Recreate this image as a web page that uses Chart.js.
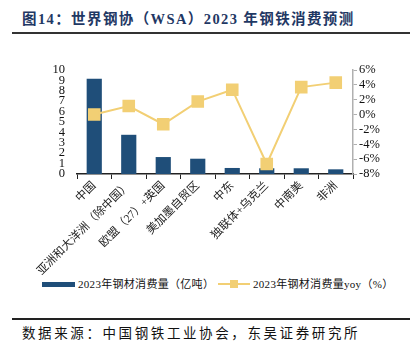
<!DOCTYPE html>
<html><head><meta charset="utf-8">
<script src="https://cdn.jsdelivr.net/npm/chart.js@4"></script>
<style>
html,body{margin:0;padding:0;background:#fff;}
body{width:410px;height:347px;position:relative;overflow:hidden;font-family:"Liberation Serif","Noto Sans CJK SC",serif;}
#title{position:absolute;left:22px;top:7px;font-size:14.5px;font-weight:bold;color:#1f3864;white-space:nowrap;letter-spacing:1.4px;}
#tline{position:absolute;left:12px;top:32px;width:398px;height:2px;background:#333;}
#wrap{position:absolute;left:0;top:40px;width:410px;height:235px;}
#legend{position:absolute;top:277px;left:42px;font-size:11px;color:#111;white-space:nowrap;}
.li{position:absolute;top:0;height:14px;line-height:14px;letter-spacing:0.3px;}
#sline{position:absolute;left:12px;top:318px;width:398px;height:2px;background:#222;}
#src{position:absolute;left:22px;top:322px;font-size:13.5px;color:#111;white-space:nowrap;letter-spacing:2.6px;}
</style></head>
<body>
<div id="title">图14：世界钢协（WSA）2023 年钢铁消费预测</div>
<div id="tline"></div>
<div id="wrap"><canvas id="c" width="410" height="235"></canvas></div>
<div id="legend"></div>
<div id="sline"></div>
<div id="src">数据来源：中国钢铁工业协会，东吴证券研究所</div>
<script>
const categories = ["中国","亚洲和大洋洲（除中国）","欧盟（27）+英国","美加墨自贸区","中东","独联体+乌克兰","中南美","非洲"];
const consumption = [9.16, 3.77, 1.63, 1.47, 0.58, 0.55, 0.55, 0.45];
const yoy = [0.0, 1.15, -1.3, 1.75, 3.35, -6.65, 3.7, 4.3];
const leftTicks = {min:0, max:10, step:1};
const rightTicks = {min:-8, max:6, step:2};
const barName = "2023年钢材消费量（亿吨）";
const lineName = "2023年钢材消费量yoy（%）";
const barColor = "#1f4e79";
const lineColor = "#f2cf74";

const font = "'Liberation Serif','Noto Sans CJK SC',serif";

new Chart(document.getElementById('c'), {
  data: {
    labels: categories,
    datasets: [
      {type:'line', label: lineName, data: yoy, yAxisID:'y1', borderColor: lineColor, backgroundColor: lineColor,
       borderWidth: 2, pointStyle:'rect', pointRadius: 7.5, pointHoverRadius:7.5, tension:0, order:0},
      {type:'bar', label: barName, data: consumption, yAxisID:'y', backgroundColor: barColor,
       barPercentage: 0.44, categoryPercentage: 1.0, order:1}
    ]
  },
  options: {
    responsive:false, animation:false,
    layout:{padding:{left:0,right:0,top:30,bottom:0}},
    plugins:{legend:{display:false}, tooltip:{enabled:false}},
    scales:{
      x:{
        offset:true,
        grid:{display:true, drawOnChartArea:false, offset:true, tickLength:5, color:'#222', lineWidth:1},
        border:{display:true, color:'#222', width:1.5},
        ticks:{autoSkip:false, maxRotation:45, minRotation:45, color:'#222', padding:0, font:{family:font, size:11.5}},
        afterFit:(s)=>{ s.height = 101; }
      },
      y:{
        position:'left', min:leftTicks.min, max:leftTicks.max,
        grid:{display:false, drawOnChartArea:false},
        border:{display:false},
        ticks:{autoSkip:false, stepSize:leftTicks.step, color:'#111', padding:4, font:{family:font, size:12.5}},
        afterFit:(s)=>{ s.width = 77; }
      },
      y1:{
        position:'right', min:rightTicks.min, max:rightTicks.max,
        grid:{display:true, drawOnChartArea:false, tickLength:4, color:'#b0b0b0', lineWidth:1},
        border:{display:true, color:'#b0b0b0', width:1.5},
        ticks:{autoSkip:false, stepSize:rightTicks.step, color:'#111', padding:2, font:{family:font, size:12.5}, callback:(v)=>v+'%'},
        afterFit:(s)=>{ s.width = 57; }
      }
    }
  }
});

const lg = document.getElementById('legend');
lg.innerHTML =
  '<div class="li" style="left:0"><span style="display:inline-block;width:33px;height:5px;background:'+barColor+';vertical-align:middle;margin-right:3px;position:relative;top:-1px"></span>'+barName+'</div>'+
  '<div class="li" style="left:176px"><span style="display:inline-block;position:relative;width:32px;height:8px;vertical-align:middle;margin-right:3px;top:-1px">'+
  '<span style="position:absolute;left:0;top:3px;width:32px;height:2px;background:'+lineColor+'"></span>'+
  '<span style="position:absolute;left:12px;top:0;width:8px;height:8px;background:'+lineColor+'"></span></span>'+lineName+'</div>';
</script>
</body></html>
